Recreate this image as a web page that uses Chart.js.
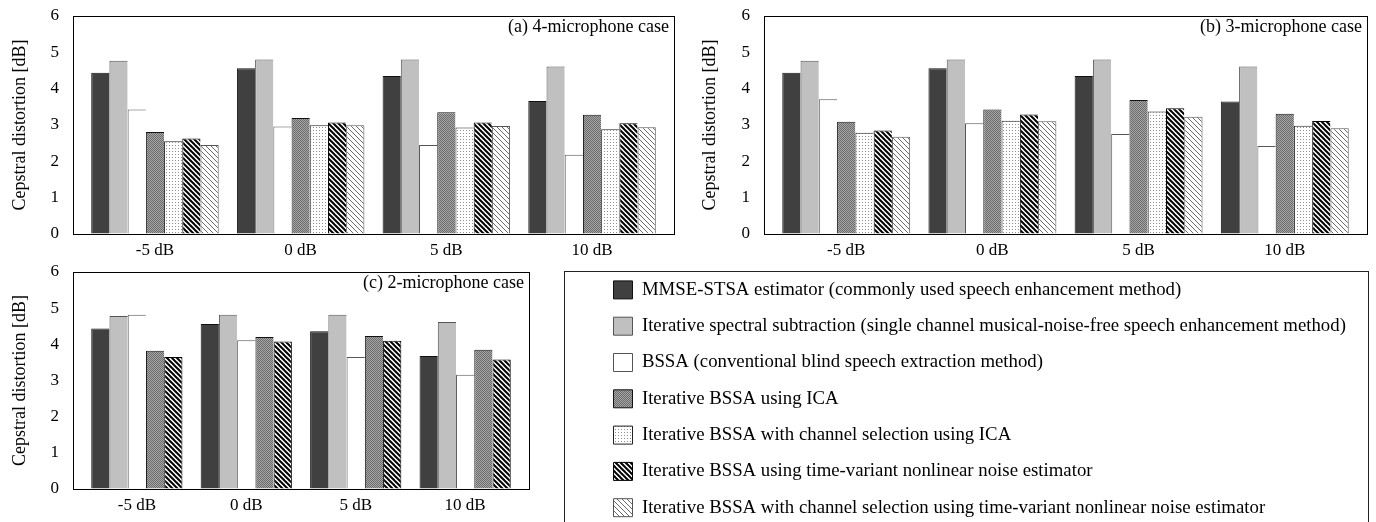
<!DOCTYPE html>
<html><head><meta charset="utf-8">
<script src="https://cdn.jsdelivr.net/npm/chart.js@4.4.1/dist/chart.umd.min.js"></script>
<style>
html,body{margin:0;padding:0;background:#fff;overflow:hidden;}
#page{position:relative;width:1376px;height:522px;overflow:hidden;background:#fff;}
canvas{position:absolute;}
#legendFrame{position:absolute;left:564px;top:271px;width:805px;height:300px;border:1px solid #222;border-bottom:none;box-sizing:border-box;}
</style></head><body>
<div id="page">
<div id="legendFrame"></div>
<canvas id="c4" width="684" height="270" style="left:0;top:0"></canvas>
<canvas id="c3" width="686" height="270" style="left:690px;top:0"></canvas>
<canvas id="c2" width="540" height="266" style="left:0;top:256px"></canvas>
<canvas id="cl" width="1600" height="320" style="left:596px;top:263px"></canvas>
</div>
<script>
// ---- data ----
const categories = ['-5 dB', '0 dB', '5 dB', '10 dB'];
const seriesNames = [
  'MMSE-STSA estimator (commonly used speech enhancement method)',
  'Iterative spectral subtraction (single channel musical-noise-free speech enhancement method)',
  'BSSA (conventional blind speech extraction method)',
  'Iterative BSSA using ICA',
  'Iterative BSSA with channel selection using ICA',
  'Iterative BSSA using time-variant nonlinear noise estimator',
  'Iterative BSSA with channel selection using time-variant nonlinear noise estimator'
];
const panelLabels = ['(a) 4-microphone case', '(b) 3-microphone case', '(c) 2-microphone case'];
const yTitle = 'Cepstral distortion [dB]';

// 4-microphone case
const mic4_mmse  = [4.44, 4.56, 4.35, 3.66];
const mic4_iss   = [4.77, 4.80, 4.80, 4.61];
const mic4_bssa  = [3.43, 2.96, 2.45, 2.18];
const mic4_ica   = [2.81, 3.19, 3.35, 3.28];
const mic4_csica = [2.55, 2.99, 2.93, 2.88];
const mic4_tv    = [2.63, 3.07, 3.07, 3.05];
const mic4_cstv  = [2.45, 2.99, 2.97, 2.94];
// 3-microphone case
const mic3_mmse  = [4.44, 4.56, 4.35, 3.65];
const mic3_iss   = [4.77, 4.80, 4.80, 4.61];
const mic3_bssa  = [3.71, 3.05, 2.75, 2.42];
const mic3_ica   = [3.09, 3.43, 3.69, 3.31];
const mic3_csica = [2.79, 3.12, 3.37, 2.98];
const mic3_tv    = [2.85, 3.29, 3.46, 3.11];
const mic3_cstv  = [2.68, 3.10, 3.23, 2.91];
// 2-microphone case
const mic2_mmse  = [4.44, 4.56, 4.36, 3.68];
const mic2_iss   = [4.78, 4.82, 4.82, 4.62];
const mic2_bssa  = [4.82, 4.11, 3.65, 3.16];
const mic2_ica   = [3.82, 4.20, 4.23, 3.85];
const mic2_tv    = [3.65, 4.08, 4.10, 3.58];

// ---- styles ----
Chart.defaults.font.family = '"Liberation Serif", "Times New Roman", serif';
Chart.defaults.color = '#000';
const borders = ['#111', '#555', '#555', '#111', '#222', '#000', '#555'];

function makeFills(ctx) {
  function pat(w, h, draw) {
    const c = document.createElement('canvas');
    c.width = w; c.height = h;
    const g = c.getContext('2d');
    draw(g, w, h);
    return ctx.createPattern(c, 'repeat');
  }
  const checker = pat(2, 2, (g) => {
    g.fillStyle = '#a6a6a6'; g.fillRect(0, 0, 2, 2);
    g.fillStyle = '#6c6c6c'; g.fillRect(0, 0, 1, 1); g.fillRect(1, 1, 1, 1);
  });
  const dots = pat(3, 3, (g) => {
    g.fillStyle = '#ffffff'; g.fillRect(0, 0, 3, 3);
    g.fillStyle = '#8e8e8e'; g.fillRect(1, 1, 1, 1);
  });
  function stripes(color, lw) {
    return pat(5, 5, (g, s) => {
      g.fillStyle = '#ffffff'; g.fillRect(0, 0, s, s);
      g.strokeStyle = color; g.lineWidth = lw;
      for (const k of [-s, 0, s]) { g.beginPath(); g.moveTo(k - 1, -1); g.lineTo(k + s + 1, s + 1); g.stroke(); }
    });
  }
  return ['#404040', '#c0c0c0', '#ffffff', checker, dots, stripes('#000', 2), stripes('#6a6a6a', 1)];
}

const framePlugin = {
  id: 'panelFrame',
  afterDatasetsDraw(chart, args, opts) {
    const { ctx, chartArea: a } = chart;
    ctx.save();
    ctx.strokeStyle = '#000';
    ctx.lineWidth = 1;
    ctx.strokeRect(a.left + 0.5, a.top + 0.5, a.right - a.left, a.bottom - a.top);
    ctx.fillStyle = '#000';
    ctx.font = '18px "Liberation Serif", "Times New Roman", serif';
    ctx.textAlign = 'right';
    ctx.textBaseline = 'middle';
    ctx.fillText(opts.text, a.right - 5, a.top + 11);
    ctx.restore();
  }
};

function makePanel(id, label, seriesIdx, valueArrays, yWidth, xHeight, pad) {
  const ctx = document.getElementById(id).getContext('2d');
  const fills = makeFills(ctx);
  const n = seriesIdx.length;
  const period = n + 1;
  const center = (i) => 1 + n / 2 + i * period;
  const xMax = 2 + n * categories.length + (categories.length - 1);
  const datasets = seriesIdx.map((s, k) => ({
    label: seriesNames[s],
    data: valueArrays[k].map((v, i) => ({ x: center(i), y: v })),
    backgroundColor: fills[s],
    borderColor: borders[s],
    borderWidth: k === n - 1 ? { top: 1, left: 1, right: 1, bottom: 0 } : { top: 1, left: 1, right: 0, bottom: 0 },
    borderSkipped: false,
    categoryPercentage: n / (n + 1),
    barPercentage: 1
  }));
  return new Chart(ctx, {
    type: 'bar',
    data: { datasets },
    options: {
      responsive: false,
      animation: false,
      layout: { padding: pad },
      plugins: { legend: { display: false }, tooltip: { enabled: false }, panelFrame: { text: label } },
      scales: {
        x: {
          type: 'linear', min: 0, max: xMax, offset: false,
          grid: { display: false, drawTicks: false }, border: { display: false },
          afterBuildTicks: (sc) => { sc.ticks = categories.map((c, i) => ({ value: center(i) })); },
          afterFit: (sc) => { sc.height = xHeight; },
          ticks: { autoSkip: false, maxRotation: 0, minRotation: 0, padding: 6, color: '#000', font: { size: 17 },
                   callback: (v, i) => categories[i] }
        },
        y: {
          type: 'linear', min: 0, max: 6,
          grid: { display: true, drawOnChartArea: false, drawTicks: true, tickLength: 14, color: 'rgba(0,0,0,0)' },
          border: { display: false },
          afterFit: (sc) => { sc.width = yWidth; },
          ticks: { stepSize: 1, padding: 0, color: '#000', font: { size: 17 } },
          title: { display: true, text: yTitle, color: '#000', font: { size: 18 }, padding: { top: 9, bottom: 0 } }
        }
      }
    },
    plugins: [framePlugin]
  });
}

makePanel('c4', panelLabels[0], [0, 1, 2, 3, 4, 5, 6],
  [mic4_mmse, mic4_iss, mic4_bssa, mic4_ica, mic4_csica, mic4_tv, mic4_cstv], 73, 36,
  { top: 16, right: 10, left: 0, bottom: 0 });
makePanel('c3', panelLabels[1], [0, 1, 2, 3, 4, 5, 6],
  [mic3_mmse, mic3_iss, mic3_bssa, mic3_ica, mic3_csica, mic3_tv, mic3_cstv], 74, 36,
  { top: 16, right: 9, left: 0, bottom: 0 });
makePanel('c2', panelLabels[2], [0, 1, 2, 3, 5],
  [mic2_mmse, mic2_iss, mic2_bssa, mic2_ica, mic2_tv], 73, 33,
  { top: 16, right: 11, left: 0, bottom: 0 });

// legend
const lctx = document.getElementById('cl').getContext('2d');
const lfills = makeFills(lctx);
new Chart(lctx, {
  type: 'bar',
  data: { labels: [], datasets: seriesNames.map((name, i) => ({ label: name, data: [], backgroundColor: lfills[i], borderColor: borders[i], borderWidth: 1 })) },
  options: {
    responsive: false, animation: false,
    layout: { padding: 0 },
    scales: { x: { display: false }, y: { display: false } },
    plugins: {
      tooltip: { enabled: false },
      legend: { position: 'left', align: 'start', onClick: null,
        labels: { boxWidth: 19, boxHeight: 18, padding: 17.5, color: '#000', font: { size: 18.8 } } }
    }
  }
});
</script>
</body></html>
